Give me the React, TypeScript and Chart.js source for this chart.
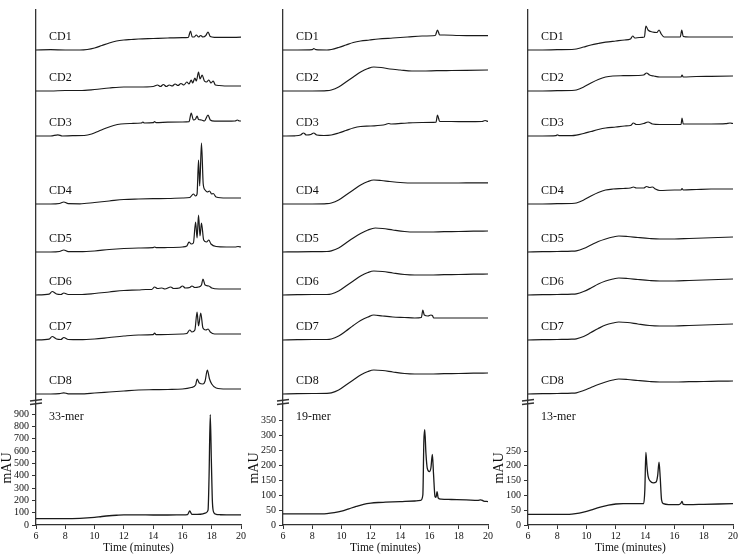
import React, { useEffect, useRef } from "react";
import { Chart, registerables } from "chart.js";

Chart.register(...registerables);

type Pt = [number, number];

const FONT = "'Liberation Serif', 'Times New Roman', serif";

// ---------- shared axis / label data ----------
const timeTicks = [6, 8, 10, 12, 14, 16, 18, 20];
const traceNames = ["CD1", "CD2", "CD3", "CD4", "CD5", "CD6", "CD7", "CD8"];
// baseline level of every stacked CD trace (display units above the time axis)
const traceBaselines = [475, 434, 389, 321, 273, 230, 185, 131];

const ticks33mer = [0, 100, 200, 300, 400, 500, 600, 700, 800, 900];
const ticks19mer = [0, 50, 100, 150, 200, 250, 300, 350];
const ticks13mer = [0, 50, 100, 150, 200, 250];

// ---------- 33-mer panel ----------
const L_CD1: Pt[] = [[6,0],[7,0.3],[8,0],[9,0],[9.5,0.5],[10,2],[10.5,4.5],[11,7],[11.5,9],[12,10],[12.5,10.5],[13,11],[14,11.5],[15,12],[16,12.3],[16.4,12.5],[16.55,19],[16.67,13],[16.8,13],[16.95,15],[17.1,13],[17.25,14.5],[17.4,13],[17.6,14.5],[17.75,18],[17.9,13.5],[18.2,12.7],[19,12.6],[20,12.8]];
const L_CD2: Pt[] = [[6,0],[7,0],[8,0.5],[9,0.5],[10,1.5],[11,3],[12,4],[13,4],[14,4.5],[14.3,6],[14.5,4.5],[14.7,6.5],[14.9,4.5],[15.1,6],[15.3,5],[15.5,7],[15.7,5.5],[15.9,7.5],[16.1,6],[16.3,9],[16.45,7],[16.6,11],[16.7,8],[16.85,13],[16.95,10],[17.1,19],[17.2,12],[17.35,16],[17.5,10],[17.65,9],[17.8,11],[17.95,8],[18.1,10],[18.25,6],[18.5,5.5],[19,5],[20,5]];
const L_CD3: Pt[] = [[6,0],[7,0],[7.5,1.2],[7.8,0],[8.5,0.3],[9.3,0.5],[9.8,2],[10.3,5],[10.8,8],[11.3,10.5],[11.8,12],[12.5,12.5],[13.2,13],[13.3,14],[13.4,13],[14,13.3],[14.1,14.3],[14.2,13.3],[15,13.8],[16,14],[16.45,14.3],[16.6,23],[16.75,16],[16.9,17],[17.0,20],[17.1,16.5],[17.3,16],[17.5,15],[17.75,21],[17.9,16],[18.2,14.8],[19,14.8],[19.6,15],[19.75,16],[19.9,15],[20,15]];
const L_CD4: Pt[] = [[6,0],[7,0],[7.6,0.5],[7.9,2],[8.2,0.3],[9,0.2],[10,1.5],[11,3],[12,4.5],[13,5],[14,5.3],[15,5.5],[16,6],[16.5,6.5],[16.75,10],[16.9,8],[17.0,10],[17.1,44],[17.18,18],[17.3,61],[17.42,20],[17.55,14],[17.7,12],[17.85,13],[18.0,10],[18.1,10.5],[18.3,7],[19,6],[20,6]];
const L_CD5: Pt[] = [[6,0],[7,0],[7.6,0.5],[7.9,2],[8.2,0.3],[9,0.3],[10,1],[11,2.5],[12,3.5],[13,4],[14,4.3],[14.1,5],[14.2,4.3],[15,4.5],[16,5],[16.3,6],[16.45,10],[16.6,8],[16.75,9],[16.9,30],[17.0,14],[17.1,37],[17.2,16],[17.3,29],[17.45,12],[17.65,10],[17.8,12],[17.95,8],[18.3,5.5],[19,5],[19.6,5],[19.8,5.5],[20,5]];
const L_CD6: Pt[] = [[6,0],[6.9,0.8],[7.1,3.5],[7.4,1],[7.7,0.5],[7.9,2],[8.2,0.5],[9,0.5],[10,1.5],[11,3],[12,4.5],[13,5],[13.5,5.5],[13.9,5.5],[14.1,8],[14.3,6.5],[14.6,7],[14.8,6],[15.2,8],[15.4,6.5],[15.8,7],[16.0,9],[16.2,7],[16.5,7.5],[16.65,9],[16.85,7.5],[17.1,8],[17.3,10],[17.4,16],[17.55,10],[17.8,9],[18.0,7],[18.5,6],[19,6],[20,6]];
const L_CD7: Pt[] = [[6,0],[6.9,0.8],[7.1,3.5],[7.4,1],[7.7,0.5],[7.9,2.5],[8.2,0.5],[9,0.3],[10,1],[11,2.5],[12,4],[13,5],[14,5.3],[14.1,7],[14.2,5.3],[15,5.5],[16,6],[16.3,6.5],[16.5,10],[16.65,8],[16.85,10],[17.0,28],[17.1,14],[17.25,27],[17.4,12],[17.6,10],[17.75,11],[17.9,8],[18.2,6],[19,6],[20,6]];
const L_CD8: Pt[] = [[6,0],[7,0],[7.6,0.3],[7.9,1.2],[8.2,0.2],[9,0.2],[10,1],[11,2],[12,3],[13,4],[14,4.3],[15,4.5],[16,5],[16.6,6.5],[16.9,9],[17.0,15],[17.15,11],[17.4,10],[17.55,13],[17.7,24],[17.85,15],[18.0,10],[18.3,6],[19,5],[20,5]];
const mer33: Pt[] = [[6,51],[7,51],[8,52],[9,54],[9.5,57],[10,62],[10.5,69],[11,75],[11.5,79],[12,82],[13,82],[14,81],[15,81],[16,82],[16.35,85],[16.5,114],[16.65,86],[17,86],[17.4,90],[17.6,98],[17.75,120],[17.82,400],[17.9,895],[17.98,500],[18.05,180],[18.15,100],[18.3,87],[18.6,83],[19,82],[20,82]];

// ---------- 19-mer panel ----------
const M_CD1: Pt[] = [[6,0],[7,0],[8,0.3],[8.1,1.5],[8.25,0.3],[9,0],[9.3,0.5],[9.8,2.5],[10.3,5],[10.8,7.5],[11.3,9],[11.9,10],[12.5,11],[13.5,12],[14.5,13],[15.5,14],[16.4,14.5],[16.55,20],[16.7,15],[17,15],[18,14.5],[19,14.3],[20,14.3]];
const M_CD2: Pt[] = [[6,0],[7,0],[8,0],[9,0.3],[9.3,1],[9.8,4],[10.3,9],[10.8,14],[11.3,19],[11.8,22.5],[12.2,24],[12.7,23.5],[13.3,22],[14,21],[14.8,20],[15.5,20],[16.5,20.3],[17.5,20.5],[18.5,20.7],[20,21]];
const M_CD3: Pt[] = [[6,0],[6.8,0.2],[7.2,1],[7.4,3],[7.6,1],[7.9,1.5],[8.1,3],[8.3,1],[8.8,0.5],[9.3,1],[9.8,3],[10.3,5.5],[10.8,8],[11.3,9.5],[12,10],[13,11.5],[13.2,12.5],[13.4,12],[14.5,13],[15.5,13.5],[16.45,13.8],[16.55,21],[16.7,14.5],[17.5,14.5],[18.5,14.3],[19.6,14.5],[19.8,15.5],[20,14.5]];
const M_CD4: Pt[] = [[6,0],[7,0],[8,0],[9,0.3],[9.3,1],[9.8,4],[10.3,9],[10.8,14],[11.3,19],[11.8,22.5],[12.2,24],[12.7,23.5],[13.3,22.5],[14,21.5],[15,21],[16,21],[17,21],[18,21],[19,21.2],[20,21.2]];
const M_CD5: Pt[] = [[6,0],[7,0.2],[8,0.3],[9,0.5],[9.3,1.2],[9.8,4],[10.3,9],[10.8,14],[11.3,18.5],[11.8,22],[12.3,24],[12.8,23.5],[13.5,22],[14.3,20.5],[15,20],[16,20],[17,20.3],[18,20.5],[19,20.8],[20,21]];
const M_CD6: Pt[] = [[6,0],[7,0.3],[8,0.5],[9,0.5],[9.3,1],[9.8,4],[10.3,9],[10.8,14],[11.3,19],[11.8,22.5],[12.2,24],[12.8,23.5],[13.5,22],[14.3,20.5],[15,20],[16,20],[17,20.3],[18,20.5],[19,20.8],[20,21]];
const M_CD7: Pt[] = [[6,0],[7,0.3],[8,0.5],[9,0.5],[9.3,1],[9.8,4],[10.3,9],[10.8,14.5],[11.3,19.5],[11.8,23],[12.2,25],[12.8,24],[13.5,23],[14.3,22.5],[15,22],[15.45,22.5],[15.55,30],[15.65,25],[15.9,24],[16.1,25],[16.2,24.5],[16.3,22],[17,22],[18,22],[19,22],[20,22]];
const M_CD8: Pt[] = [[6,0],[7,0.3],[8,0.5],[9,0.7],[9.3,1.2],[9.8,4],[10.3,9],[10.8,14],[11.3,19],[11.8,22.5],[12.2,24],[12.8,23.5],[13.5,22],[14.3,20.5],[15,20],[16,20],[17,20.3],[18,20.5],[19,20.8],[20,21]];
const mer19: Pt[] = [[6,37],[7,37],[8,37],[9,38],[9.5,41],[10,46],[10.5,54],[11,62],[11.5,69],[12,73],[12.5,75],[13,76],[14,78],[15,80],[15.4,82],[15.55,100],[15.62,280],[15.68,318],[15.76,240],[15.85,190],[16.0,178],[16.1,190],[16.2,235],[16.28,170],[16.38,95],[16.45,92],[16.52,111],[16.6,90],[16.8,86],[17.5,85],[18.5,84],[19.3,82],[19.5,84],[19.7,80],[20,78]];

// ---------- 13-mer panel ----------
const R_CD1: Pt[] = [[6,0],[7,0],[8,0.3],[9,0.5],[9.3,1],[9.8,3],[10.3,5],[10.8,6.5],[11.3,7.8],[12,9],[12.6,10],[13.0,11],[13.15,14],[13.3,12],[13.6,12.5],[13.95,13],[14.05,24],[14.2,20],[14.5,18],[14.8,17.5],[14.95,20],[15.1,16],[15.3,13],[16,13],[16.4,13],[16.5,20],[16.6,13.5],[17,13],[18,13],[19,13],[20,13]];
const R_CD2: Pt[] = [[6,0],[7,0],[8,0.3],[9,0.5],[9.3,1],[9.8,4],[10.3,8],[10.8,11.5],[11.3,14],[11.8,15],[12.5,15.3],[13.5,15.5],[13.9,16],[14.1,18],[14.3,16],[14.6,15],[15,14],[16,14],[16.45,14],[16.52,16],[16.6,14],[17.5,14.5],[18.5,14.7],[20,15]];
const R_CD3: Pt[] = [[6,0],[7,0],[7.9,0.3],[8.0,1.2],[8.15,0.3],[9,0.3],[9.3,0.8],[9.8,2.5],[10.3,4.5],[10.8,6.5],[11.3,8],[12,9],[12.6,10],[13.0,10.5],[13.2,13],[13.4,11.5],[13.6,11.5],[13.9,12.5],[14.2,14],[14.5,12],[15,11.5],[16,11.5],[16.45,11.5],[16.52,18],[16.6,12],[17.5,12],[18.5,12],[19.5,12.3],[19.8,13],[20,12.5]];
const R_CD4: Pt[] = [[6,0],[7,0],[8,0.3],[9,0.5],[9.3,1],[9.8,4],[10.3,8],[10.8,11.5],[11.3,14],[11.8,15],[12.5,15.5],[13,16],[13.2,17],[13.4,16],[13.9,16],[14.1,17.5],[14.3,16.5],[14.5,17],[14.7,15],[15,13.5],[16,14],[16.45,14],[16.52,15.5],[16.6,14],[17.5,14.5],[18.5,15],[20,15]];
const R_CD5: Pt[] = [[6,0],[7,0.3],[8,0.5],[9,0.8],[9.3,1.2],[9.8,3.5],[10.3,7],[10.8,10.5],[11.3,13],[11.8,15],[12.2,16],[12.8,15.5],[13.5,14.5],[14.3,13.5],[15,13],[16,13],[17,13.5],[18,14],[19,14.5],[20,15]];
const R_CD6: Pt[] = [[6,0],[7,0.3],[8,0.5],[9,0.8],[9.3,1.2],[9.8,3.5],[10.3,7],[10.8,11],[11.3,14],[11.8,16],[12.2,17],[12.8,16.5],[13.5,15.5],[14.3,14.5],[15,14],[16,14],[17,14.5],[18,15],[19,15.5],[20,16]];
const R_CD7: Pt[] = [[6,0],[7,0.3],[8,0.5],[9,0.8],[9.3,1.2],[9.8,3.5],[10.3,7.5],[10.8,11.5],[11.3,15],[11.8,17],[12.2,18],[12.8,17.5],[13.5,16],[14.3,14.5],[15,14],[16,14],[17,14.5],[18,15],[19,15.5],[20,16]];
const R_CD8: Pt[] = [[6,0],[7,0.3],[8,0.5],[9,0.8],[9.3,1.2],[9.8,3.5],[10.3,6.5],[10.8,9.5],[11.3,12],[11.8,14],[12.2,15],[12.8,14.5],[13.5,13.5],[14.3,12.5],[15,12],[16,12],[17,12.3],[18,12.5],[19,12.8],[20,13]];
const mer13: Pt[] = [[6,36],[7,36],[8,36],[9,37],[9.5,40],[10,46],[10.5,54],[11,61],[11.5,67],[12,71],[12.5,72],[13,72],[13.9,72],[13.98,120],[14.05,245],[14.12,200],[14.2,165],[14.35,148],[14.55,142],[14.75,145],[14.85,165],[14.95,212],[15.03,160],[15.12,85],[15.25,72],[15.6,69],[16.3,69],[16.45,74],[16.52,80],[16.6,70],[17,69],[18,70],[19,71],[20,72]];

// ---------- layout constants (not data) ----------
const PANEL_W = 250;
const PANEL_H = 557;
const CD_RANGE = 515; // display units of the hidden trace scale (1 unit = 1 px)
const SAMPLE_LABEL_LEVEL = 108;
const TITLE_LEVEL = 57;
const BREAK_LEVEL = 123;

interface PanelDef {
  left: number;
  sample: string;
  mauMax: number;
  mauTicks: number[];
  traces: Pt[][];
  main: Pt[];
}

const panels: PanelDef[] = [
  { left: 0, sample: "33-mer", mauMax: 4176, mauTicks: ticks33mer, traces: [L_CD1, L_CD2, L_CD3, L_CD4, L_CD5, L_CD6, L_CD7, L_CD8], main: mer33 },
  { left: 247, sample: "19-mer", mauMax: 1717, mauTicks: ticks19mer, traces: [M_CD1, M_CD2, M_CD3, M_CD4, M_CD5, M_CD6, M_CD7, M_CD8], main: mer19 },
  { left: 492, sample: "13-mer", mauMax: 1740, mauTicks: ticks13mer, traces: [R_CD1, R_CD2, R_CD3, R_CD4, R_CD5, R_CD6, R_CD7, R_CD8], main: mer13 },
];

const INK = "#1a1a1a";
const AXIS = "#333";

function makeDecor(p: PanelDef) {
  return {
    id: "decor",
    afterDraw(chart: any) {
      const { ctx, chartArea } = chart;
      const yc = chart.scales.yc;
      const ax = chartArea.left;
      ctx.save();
      ctx.fillStyle = "#111";
      ctx.textAlign = "left";
      ctx.textBaseline = "middle";
      ctx.font = `12px ${FONT}`;
      traceNames.forEach((name, i) => {
        ctx.fillText(name, ax + 13, yc.getPixelForValue(traceBaselines[i] + 13));
      });
      ctx.fillText(p.sample, ax + 13, yc.getPixelForValue(SAMPLE_LABEL_LEVEL));

      ctx.save();
      ctx.translate(ax - 29, yc.getPixelForValue(TITLE_LEVEL));
      ctx.rotate(-Math.PI / 2);
      ctx.textAlign = "center";
      ctx.font = `14px ${FONT}`;
      ctx.fillText("mAU", 0, 0);
      ctx.restore();

      const by = yc.getPixelForValue(BREAK_LEVEL);
      ctx.strokeStyle = AXIS;
      ctx.lineWidth = 1.3;
      ctx.beginPath();
      ctx.moveTo(ax - 6, by - 1);
      ctx.lineTo(ax + 6, by - 2.5);
      ctx.moveTo(ax - 6, by + 2.5);
      ctx.lineTo(ax + 6, by + 1);
      ctx.stroke();
      ctx.restore();
    },
  };
}

function Panel({ p }: { p: PanelDef }) {
  const ref = useRef<HTMLCanvasElement>(null);
  useEffect(() => {
    if (!ref.current) return;
    const datasets: any[] = p.traces.map((tr, i) => ({
      label: traceNames[i],
      data: tr.map(([t, v]) => ({ x: t, y: v + traceBaselines[i] })),
      yAxisID: "yc",
      borderColor: INK,
      borderWidth: 1.2,
      pointRadius: 0,
      cubicInterpolationMode: "monotone",
      fill: false,
    }));
    datasets.push({
      label: p.sample,
      data: p.main.map(([t, v]) => ({ x: t, y: v })),
      yAxisID: "y",
      borderColor: INK,
      borderWidth: 1.3,
      pointRadius: 0,
      cubicInterpolationMode: "monotone",
      fill: false,
    });
    const chart = new Chart(ref.current, {
      type: "line",
      data: { datasets },
      options: {
        animation: false,
        responsive: false,
        events: [],
        layout: { padding: { top: 10, right: 9, bottom: 2, left: 0 } },
        plugins: { legend: { display: false }, tooltip: { enabled: false } },
        scales: {
          x: {
            type: "linear",
            min: 6,
            max: 20,
            afterBuildTicks: (s: any) => {
              s.ticks = timeTicks.map((v) => ({ value: v }));
            },
            afterFit: (s: any) => {
              s.height = 30;
            },
            grid: { drawOnChartArea: false, drawTicks: true, tickLength: 4, color: AXIS, lineWidth: 1 },
            border: { color: AXIS, width: 1.3 },
            ticks: { color: "#111", font: { family: FONT, size: 10 }, padding: 1, maxRotation: 0 },
            title: { display: true, text: "Time (minutes)", color: "#111", font: { family: FONT, size: 11.5 }, padding: 0 },
          },
          y: {
            type: "linear",
            position: "left",
            min: 0,
            max: p.mauMax,
            afterBuildTicks: (s: any) => {
              s.ticks = p.mauTicks.map((v) => ({ value: v }));
            },
            afterFit: (s: any) => {
              s.width = 36;
            },
            grid: { drawOnChartArea: false, drawTicks: true, tickLength: 4, color: AXIS, lineWidth: 1 },
            border: { color: AXIS, width: 1.3 },
            ticks: { color: "#111", font: { family: FONT, size: 10 }, padding: 3 },
          },
          yc: {
            type: "linear",
            display: false,
            min: 0,
            max: CD_RANGE,
          },
        },
      } as any,
      plugins: [makeDecor(p)],
    });
    return () => chart.destroy();
  }, [p]);
  return (
    <canvas
      ref={ref}
      width={PANEL_W}
      height={PANEL_H}
      style={{ position: "absolute", left: p.left, top: 0, width: PANEL_W, height: PANEL_H }}
    />
  );
}

export default function App() {
  return (
    <div
      style={{
        position: "absolute",
        left: 0,
        top: 0,
        width: 738,
        height: 557,
        overflow: "hidden",
        background: "#fff",
      }}
    >
      {panels.map((p) => (
        <Panel key={p.sample} p={p} />
      ))}
    </div>
  );
}
